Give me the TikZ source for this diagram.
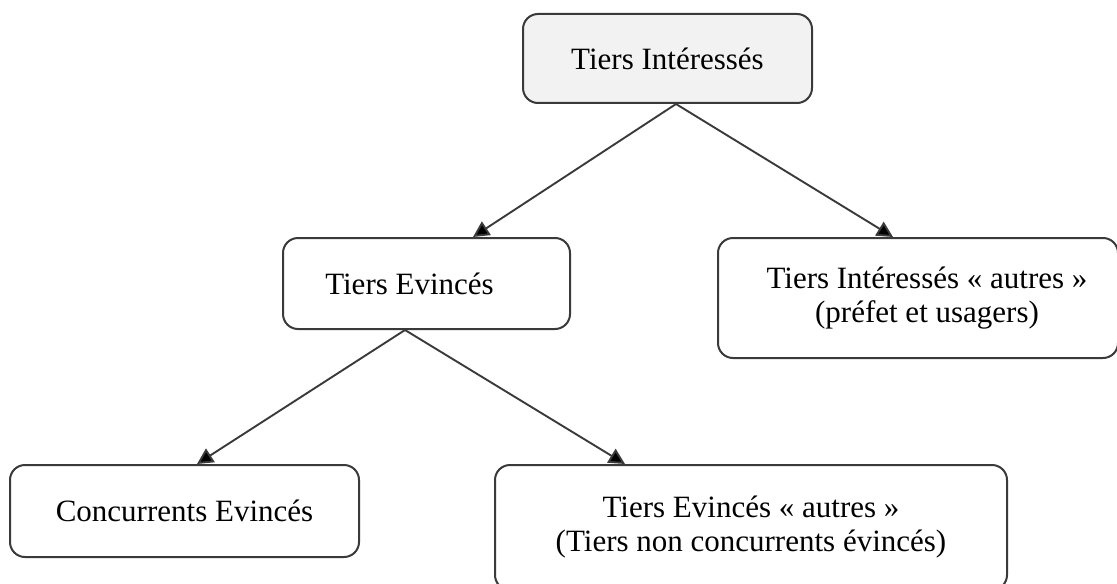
\documentclass[tikz,border=0pt]{standalone}
\usepackage{fontspec}
\setmainfont{Liberation Serif}
\usepackage{tikz}
\usetikzlibrary{positioning,arrows.meta}
\definecolor{trait}{RGB}{58,58,58}
\definecolor{fondgris}{RGB}{242,242,242}

\begin{document}
\begin{tikzpicture}[x=0.5pt,y=-0.5pt,
        boite/.style={draw=trait,line width=1pt,rounded corners=7.5pt,inner sep=0pt,align=center,
                      font=\fontsize{15.5pt}{17pt}\selectfont},
        fleche/.style={draw=trait,line width=0.95pt,-{Triangle[length=8pt,width=8pt,fill=black]}}]
        \useasboundingbox (0,0) rectangle (1117,583);
        \clip (0,0) rectangle (1117,583);
        \node[boite, fill=fondgris, minimum width=144.5pt, minimum height=44.5pt] (TI) at (667.5,58.5) {Tiers Intéressés};
        \node[boite, minimum width=143.5pt, minimum height=45.5pt] (TE) at (426.5,283.5) {Tiers Evincés\hspace{17pt}};
        \node[boite, minimum width=200pt, minimum height=60pt] (TIA) at (918,298) {\hspace{9pt}Tiers Intéressés « autres »\\\hspace{9pt}(préfet et usagers)};
        \node[boite, minimum width=174.5pt, minimum height=46pt] (CE) at (184.5,511) {Concurrents Evincés};
        \node[boite, minimum width=256pt, minimum height=62.5pt] (TEA) at (751,527.5) {Tiers Evincés « autres »\\(Tiers non concurrents évincés)};
        \draw[fleche] ([xshift=4.25pt]TI.south) -- ([xshift=23.25pt]TE.north);
        \draw[fleche] ([xshift=4.25pt]TI.south) -- ([xshift=-12.5pt]TIA.north);
        \draw[fleche] ([xshift=-10.75pt]TE.south) -- ([xshift=6.25pt]CE.north);
        \draw[fleche] ([xshift=-10.75pt]TE.south) -- ([xshift=-63pt]TEA.north);
        \end{tikzpicture}
\end{document}
